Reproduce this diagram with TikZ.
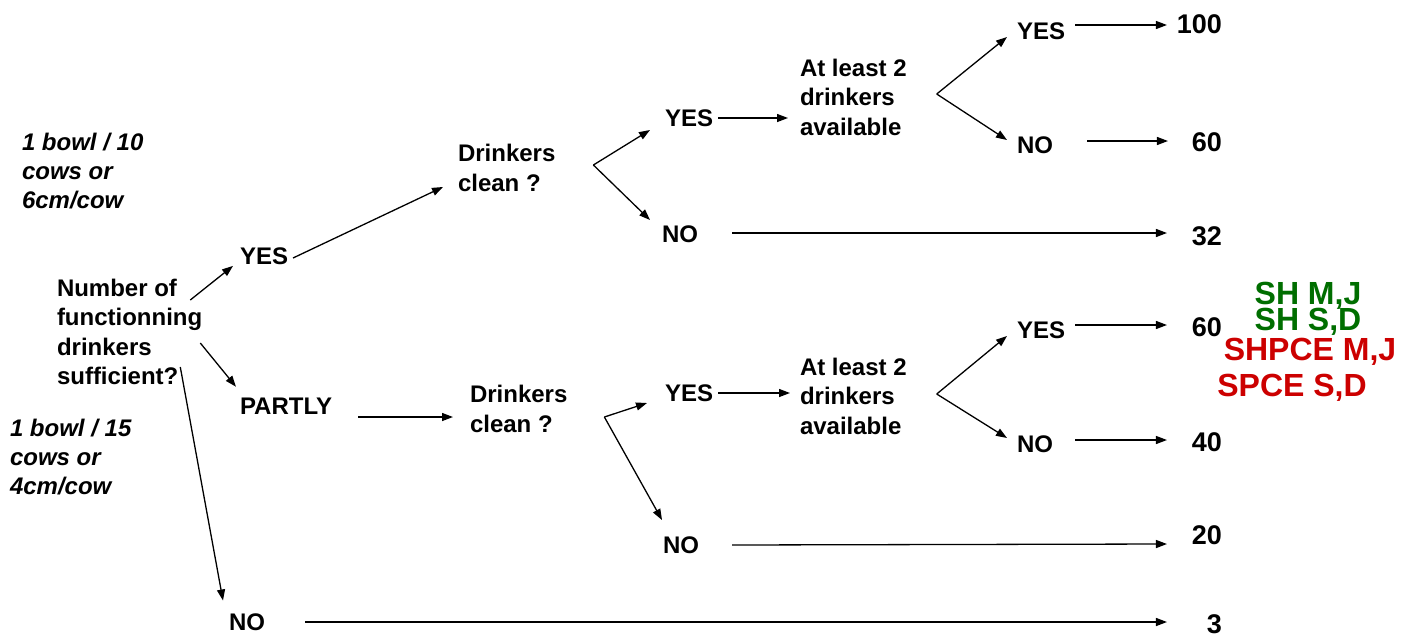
\documentclass[tikz,border=0pt]{standalone}
\usepackage{fontspec}
\setmainfont{Liberation Sans}
\usepackage{tikz}
\usetikzlibrary{arrows.meta, positioning, calc}
\definecolor{taggreen}{RGB}{0,110,0}
\definecolor{tagred}{RGB}{204,0,0}
\tikzset{
  txt/.style={
    font=\bfseries\fontsize{24}{29.5}\selectfont,
    inner sep=0pt,
    outer sep=0pt,
    align=left,
    anchor=west
  },
  note/.style={
    txt,
    font=\bfseries\itshape\fontsize{24}{29}\selectfont
  },
  val/.style={
    font=\bfseries\fontsize{27}{30}\selectfont,
    inner sep=0pt,
    outer sep=0pt,
    anchor=east
  },
  tag/.style={
    font=\bfseries\fontsize{32}{34}\selectfont,
    inner sep=0pt
  },
  arrow/.style={
    line width=1.3pt,
    -{Triangle[length=11pt,width=8pt]}
  }
}

\begin{document}
\begin{tikzpicture}[x=1pt, y=-1pt]
\useasboundingbox (0,0) rectangle (1411,635);

% --- first question ---
\node (note1) [note] at (22,171) {1 bowl / 10\\cows or\\6cm/cow};
\node (note2) [note] at (10,457) {1 bowl / 15\\cows or\\4cm/cow};
\node (q1) [txt] at (57,332) {Number of\\functionning\\drinkers\\sufficient?};
\node (yes1) [txt] at (240,256) {YES};
\node (partly) [txt] at (240,406) {PARTLY};
\node (no1) [txt] at (229,622) {NO};

% --- upper branch ---
\node (dc1) [txt] at (458,168) {Drinkers\\clean ?};
\node (yes2) [txt] at (665,118) {YES};
\node (no2) [txt] at (662,234) {NO};
\node (al1) [txt] at (800,97) {At least 2\\drinkers\\available};
\node (yes3) [txt] at (1017,31) {YES};
\node (no3) [txt] at (1017,145) {NO};

% --- lower branch ---
\node (dc2) [txt] at (470,409) {Drinkers\\clean ?};
\node (yes4) [txt] at (665,393) {YES};
\node (no4) [txt] at (663,545) {NO};
\node (al2) [txt] at (800,396) {At least 2\\drinkers\\available};
\node (yes5) [txt] at (1017,330) {YES};
\node (no5) [txt] at (1017,444) {NO};

% --- scores ---
\node (v100) [val] at (1222,24) {100};
\node (v60a) [val] at (1222,142) {60};
\node (v32) [val] at (1222,236) {32};
\node (v60b) [val] at (1222,327) {60};
\node (v40) [val] at (1222,442) {40};
\node (v20) [val] at (1222,535) {20};
\node (v3) [val] at (1222,624.5) {3};

% --- species tags ---
\node (sh1) [tag, text=taggreen] at (1308,296) {SH M,J};
\node (sh2) [tag, text=taggreen] at (1308,322) {SH S,D};
\node (shpce) [tag, text=tagred] at (1310,352) {SHPCE M,J};
\node (spce) [tag, text=tagred] at (1292,388) {SPCE S,D};

% --- arrows ---
\draw[arrow] ($(q1.east)+(-12,-32)$) -- ($(yes1.south west)+(-7,1.4)$);
\draw[arrow] ($(q1.east)+(-2,11)$) -- ($(partly.north west)+(-4,-11)$);
\draw[arrow] ($(q1.east)+(-22,35)$) -- ($(no1.north west)+(-6,-13)$);

\draw[arrow] ($(yes1.east)+(5,2)$) -- ($(dc1.west)+(-15,19)$);
\draw[arrow] ($(dc1.east)+(38,-3)$) -- ($(yes2.west)+(-15,12)$);
\draw[arrow] ($(dc1.east)+(38,-3)$) -- ($(no2.west)+(-12,-14)$);
\draw[arrow] ($(yes2.east)+(5,0)$) -- ($(al1.west)+(-12,21)$);
\draw[arrow] ($(al1.east)+(30,-3)$) -- ($(yes3.west)+(-10,6)$);
\draw[arrow] ($(al1.east)+(30,-3)$) -- ($(no3.west)+(-10,-5)$);
\draw[arrow] ($(yes3.east)+(10,-6)$) -- ($(v100.west)+(-10,1)$);
\draw[arrow] ($(no3.east)+(34,-4)$) -- ($(v60a.west)+(-24,-1)$);
\draw[arrow] ($(no2.east)+(34,-1)$) -- ($(v32.west)+(-25,-3)$);

\draw[arrow] ($(partly.east)+(26,11)$) -- ($(dc2.west)+(-17,8)$);
\draw[arrow] ($(dc2.east)+(37,8)$) -- ($(yes4.west)+(-18,10)$);
\draw[arrow] ($(dc2.east)+(37,8)$) -- ($(no4.west)+(-1,-25)$);
\draw[arrow] ($(yes4.east)+(5,0)$) -- ($(al2.west)+(-10,-3)$);
\draw[arrow] ($(al2.east)+(30,-2)$) -- ($(yes5.west)+(-10,6)$);
\draw[arrow] ($(al2.east)+(30,-2)$) -- ($(no5.west)+(-10,-6)$);
\draw[arrow] ($(yes5.east)+(10,-5)$) -- ($(v60b.west)+(-25,-2)$);
\draw[arrow] ($(no5.east)+(22,-4)$) -- ($(v40.west)+(-25,-2)$);
\draw[arrow] ($(no4.east)+(33,0)$) -- ($(v20.west)+(-25,9)$);
\draw[arrow] ($(no1.east)+(40,0)$) -- ($(v3.west)+(-40,-2.5)$);

\end{tikzpicture}
\end{document}
